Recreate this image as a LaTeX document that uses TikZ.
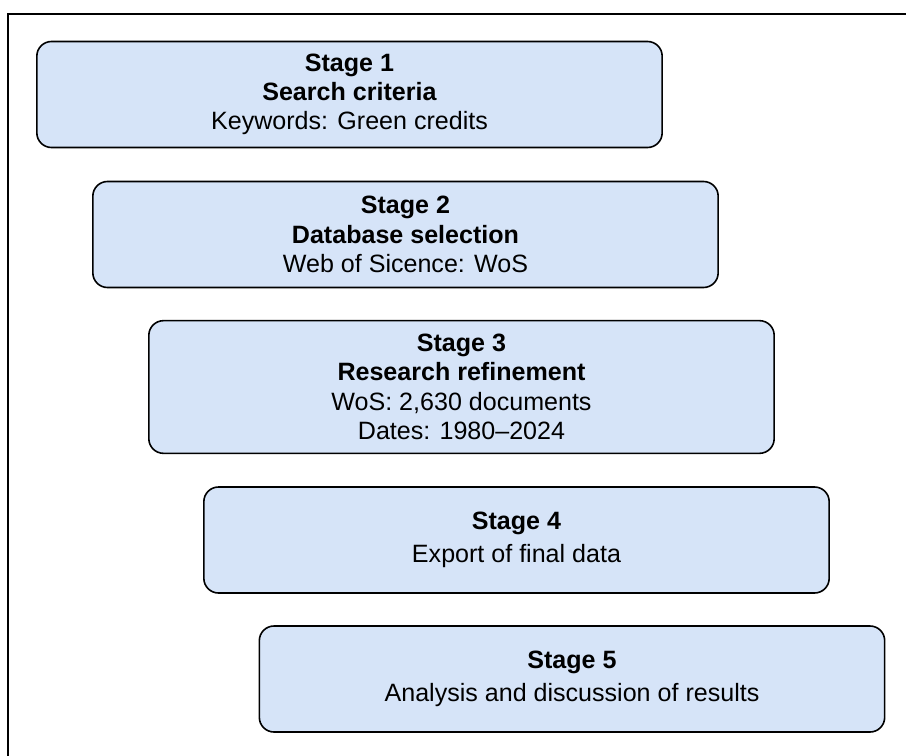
\documentclass[tikz,border=0pt]{standalone}
\usepackage{fontspec}
\setmainfont{Liberation Sans}
\definecolor{boxfill}{HTML}{D6E4F8}
\begin{document}
\begin{tikzpicture}[x=0.75pt,y=-0.75pt,
  stagebox/.style={draw=black, line width=1.2pt, fill=boxfill, rounded corners=11pt,
    minimum width=469pt, align=center, inner sep=0pt,
    font=\fontsize{18.8pt}{22pt}\selectfont},
  frameline/.style={draw=black, line width=1.6pt}]
\useasboundingbox (0,0) rectangle (906,756);
\draw[frameline] (8,760) -- (8,14) -- (910,14);
\node[stagebox, minimum height=79.5pt] (s1) at (349.5,94.5) {\textbf{Stage 1}\\\textbf{Search criteria}\\Keywords: Green credits};
\node[stagebox, minimum height=79.5pt] (s2) at (405.5,234.5) {\textbf{Stage 2}\\\textbf{Database selection}\\Web of Sicence: WoS};
\node[stagebox, minimum height=99.5pt] (s3) at (461.5,387) {\textbf{Stage 3}\\\textbf{Research refinement}\\WoS: 2,630 documents\\Dates: 1980--2024};
\node[stagebox, minimum height=79.5pt] (s4) at (516.5,540) {\textbf{Stage 4}\\[3pt]Export of final data};
\node[stagebox, minimum height=79.5pt] (s5) at (572,679) {\textbf{Stage 5}\\[3pt]Analysis and discussion of results};
\end{tikzpicture}
\end{document}
